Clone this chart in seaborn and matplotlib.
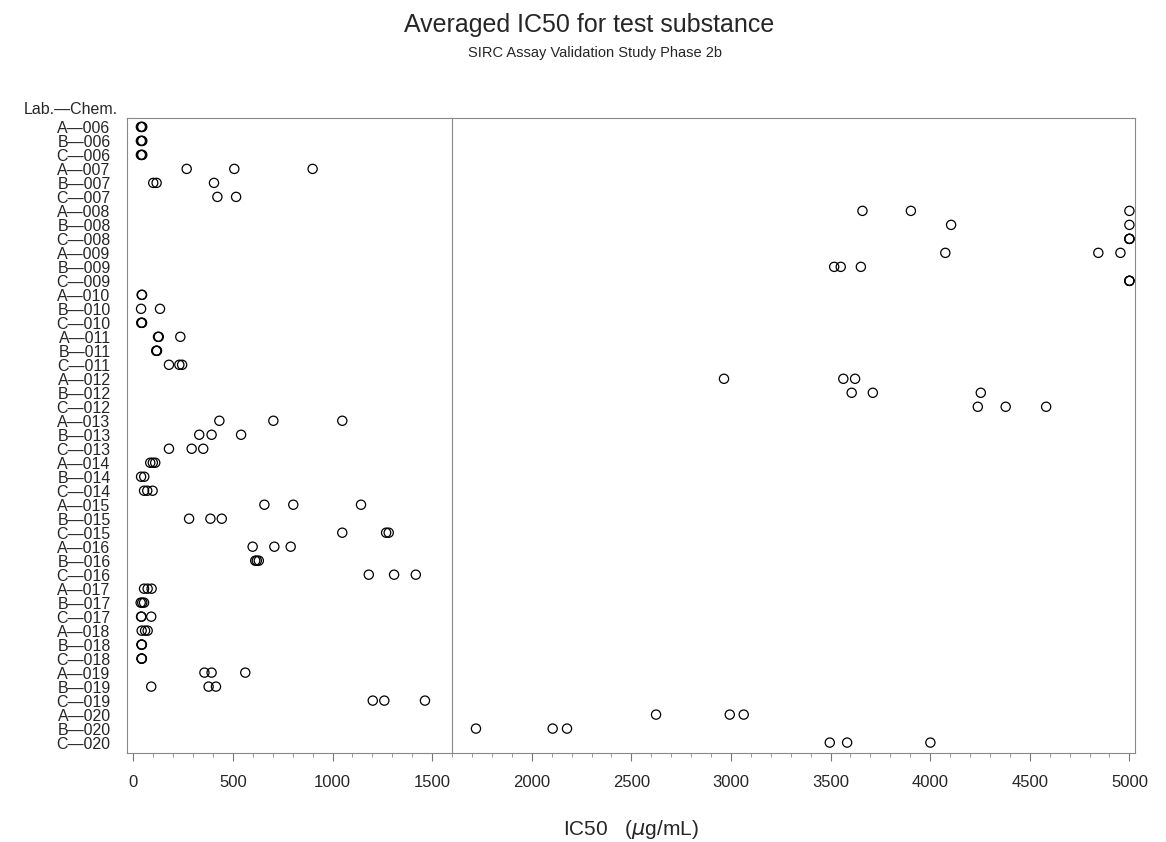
import numpy as np
import pandas as pd
import matplotlib
matplotlib.use('Agg')
import matplotlib.pyplot as plt
import seaborn as sns
from matplotlib.ticker import MultipleLocator

# laboratorios y sustancias (filas del grafico, de arriba a abajo)
labs = ['A', 'B', 'C']
chems = ['006', '007', '008', '009', '010', '011', '012', '013',
         '014', '015', '016', '017', '018', '019', '020']

# IC50 promedio por sustancia, una lista por laboratorio (A, B, C)
ic50_006 = [[38, 42, 45], [38, 42, 45], [38, 42, 45]]
ic50_007 = [[268, 507, 900], [100, 117, 405], [422, 516]]
ic50_008 = [[3660, 3903, 5000], [4105, 5000], [5000, 5000, 5000]]
ic50_009 = [[4076, 4844, 4955], [3518, 3551, 3652], [5000, 5000, 5000]]
ic50_010 = [[42, 44], [39, 134], [40, 42, 44]]
ic50_011 = [[124, 128, 236], [115, 117, 119], [179, 231, 245]]
ic50_012 = [[2965, 3564, 3623], [3606, 3712, 4254], [4239, 4379, 4582]]
ic50_013 = [[432, 703, 1049], [331, 393, 541], [179, 293, 351]]
ic50_014 = [[85, 98, 110], [39, 55], [54, 70, 97]]
ic50_015 = [[658, 803, 1143], [280, 387, 444], [1049, 1269, 1282]]
ic50_016 = [[599, 708, 790], [612, 620, 630], [1182, 1309, 1418]]
ic50_017 = [[54, 72, 92], [37, 45, 54], [39, 41, 90]]
ic50_018 = [[42, 59, 72], [41, 42, 43], [41, 42, 43]]
ic50_019 = [[357, 393, 562], [90, 378, 415], [1202, 1260, 1464]]
ic50_020 = [[2624, 2994, 3064], [1720, 2105, 2177], [3496, 3583, 4001]]

all_ic50 = [ic50_006, ic50_007, ic50_008, ic50_009, ic50_010, ic50_011,
            ic50_012, ic50_013, ic50_014, ic50_015, ic50_016, ic50_017,
            ic50_018, ic50_019, ic50_020]

cutoff = 1600

rows = []
for chem, vals in zip(chems, all_ic50):
    for lab, lab_vals in zip(labs, vals):
        for v in lab_vals:
            rows.append({'row': f'{lab}\u2014{chem}', 'IC50': v})
df = pd.DataFrame(rows)
order = [f'{lab}\u2014{chem}' for chem in chems for lab in labs]
df['pos'] = df['row'].map({r: i for i, r in enumerate(order)})

sns.set_style('white')
plt.rcParams['font.family'] = ['Liberation Sans', 'DejaVu Sans']

fig = plt.figure(figsize=(11.66, 8.42), dpi=100)
ax = fig.add_axes([0.1092, 0.1061, 0.8642, 0.7538])

sns.scatterplot(data=df, x='IC50', y='pos', ax=ax, marker='o', s=44,
                legend=False)
pts = ax.collections[0]
pts.set_facecolor('none')
pts.set_edgecolor('black')
pts.set_linewidth(0.9)

ax.axvline(cutoff, color='#888888', lw=0.8, zorder=0)

ax.set_xlim(-30, 5028)
ax.set_ylim(44.72, -0.64)
ax.set_yticks(range(len(order)))
ax.set_yticklabels(order, fontsize=11.5)
ax.tick_params(axis='y', length=0, pad=12)

ax.xaxis.set_major_locator(MultipleLocator(500))
ax.xaxis.set_minor_locator(MultipleLocator(100))
ax.tick_params(axis='x', which='major', length=6, width=0.8, color='#777777',
               direction='out', labelsize=12, pad=10, bottom=True)
ax.tick_params(axis='x', which='minor', length=3, width=0.6, color='#888888',
               direction='out', bottom=True)

for sp in ax.spines.values():
    sp.set_color('#888888')
    sp.set_linewidth(0.8)

ax.set_ylabel('')
ax.set_xlabel(r'IC50   ($\mu$g/mL)', fontsize=15, labelpad=20)

fig.text(0.505, 1 - 25 / 842, 'Averaged IC50 for test substance',
         ha='center', va='center', fontsize=18)
fig.text(0.51, 1 - 53 / 842, 'SIRC Assay Validation Study Phase 2b',
         ha='center', va='center', fontsize=10.5)
fig.text(0.02, 1 - 110 / 842, 'Lab.\u2014Chem.', ha='left', va='center',
         fontsize=11.5)

fig.savefig('out.png', dpi=100)
